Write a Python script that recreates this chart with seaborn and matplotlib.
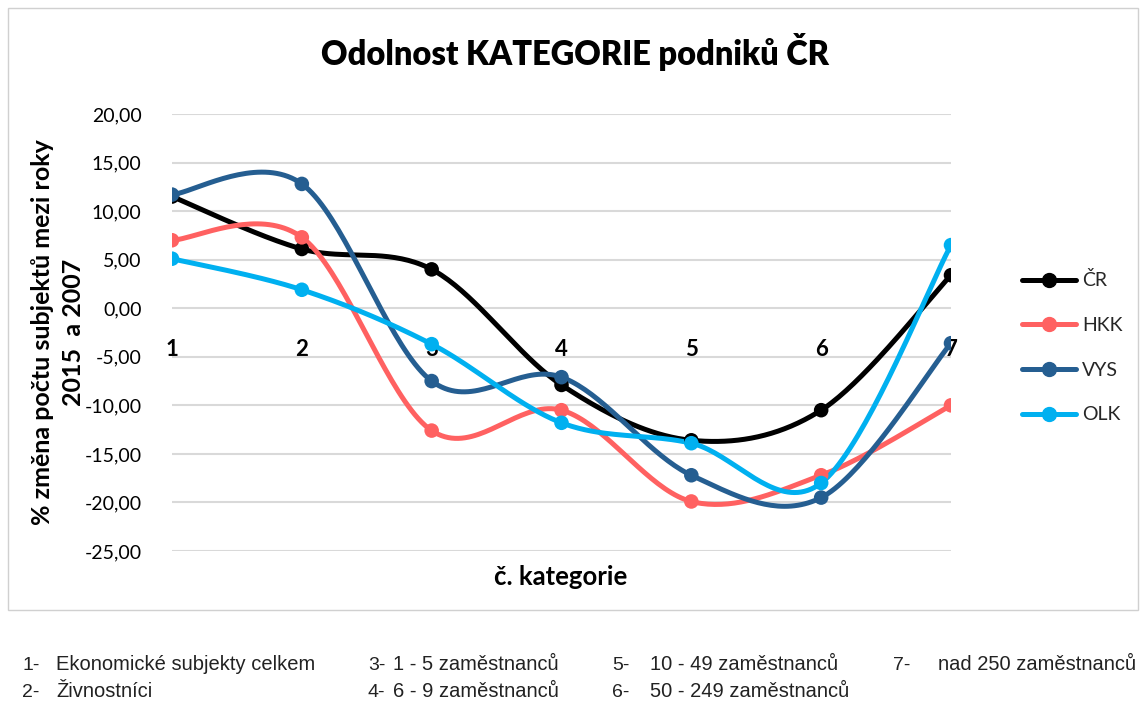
import numpy as np
import pandas as pd
import matplotlib
matplotlib.use("Agg")
import matplotlib.pyplot as plt
from matplotlib.lines import Line2D
from matplotlib.patches import Rectangle
import seaborn as sns

# data
categories = [1, 2, 3, 4, 5, 6, 7]
cr = [11.5, 6.1, 4.0, -7.9, -13.6, -10.5, 3.4]
hkk = [7.0, 7.3, -12.6, -10.5, -19.9, -17.2, -10.0]
vys = [11.7, 12.8, -7.5, -7.1, -17.2, -19.5, -3.6]
olk = [5.1, 1.9, -3.7, -11.8, -13.9, -18.0, 6.5]

series_names = ["ČR", "HKK", "VYS", "OLK"]
series_values = [cr, hkk, vys, olk]
colors = ["#000000", "#FF6161", "#255E91", "#00B0F0"]

yticks = [20, 15, 10, 5, 0, -5, -10, -15, -20, -25]

# footnote: (number, text, x of number, x of text, baseline y) in pixels
footnotes = [
    ("1-", "Ekonomické subjekty celkem", 22, 56, 670),
    ("2-", "Živnostníci", 22, 56, 697),
    ("3-", "1 - 5 zaměstnanců", 368, 393, 670),
    ("4-", "6 - 9 zaměstnanců", 368, 393, 697),
    ("5-", "10 - 49 zaměstnanců", 612, 650, 670),
    ("6-", "50 - 249 zaměstnanců", 612, 650, 697),
    ("7-", "nad 250 zaměstnanců", 893, 938, 670),
]


def smooth(xs, ys, n=40):
    # Excel-like smoothed line: cubic Bezier with Catmull-Rom control points
    pts = np.column_stack([xs, ys]).astype(float)
    pad = np.vstack([pts[0], pts, pts[-1]])
    out = []
    t = np.linspace(0, 1, n)[:, None]
    for i in range(1, len(pad) - 2):
        p0, p1, p2, p3 = pad[i - 1], pad[i], pad[i + 1], pad[i + 2]
        c1 = p1 + (p2 - p0) / 6
        c2 = p2 - (p3 - p1) / 6
        seg = ((1 - t) ** 3) * p1 + 3 * ((1 - t) ** 2) * t * c1 + 3 * (1 - t) * t ** 2 * c2 + t ** 3 * p2
        out.append(seg if i == 1 else seg[1:])
    return np.vstack(out)


sns.set_style("white")
plt.rcParams["font.family"] = ["Lato", "DejaVu Sans"]

W, H = 1146, 704
fig = plt.figure(figsize=(W / 100, H / 100), dpi=100)
ax = fig.add_axes([172 / W, 1 - 551 / H, (951 - 172) / W, 437 / H])

# chart border
fig.patches.append(Rectangle((8 / W, 1 - 610 / H), 1130 / W, 602 / H, transform=fig.transFigure,
                             fill=False, edgecolor="#D0D0D0", linewidth=1))

for name, vals, color in zip(series_names, series_values, colors):
    curve = smooth(categories, vals)
    sns.lineplot(x=curve[:, 0], y=curve[:, 1], color=color, sort=False, estimator=None,
                 linewidth=3.6, ax=ax, legend=False)

points = pd.DataFrame({"x": categories * 4,
                       "y": sum(series_values, []),
                       "region": np.repeat(series_names, len(categories))})
sns.scatterplot(data=points, x="x", y="y", hue="region", palette=colors, s=110,
                edgecolor="none", legend=False, ax=ax, zorder=5)

ax.spines["bottom"].set_position(("data", 0))
for s in ax.spines.values():
    s.set_visible(False)
ax.set_xlim(1, 7)
ax.set_ylim(-25, 20)
ax.set_yticks(yticks)
ax.set_yticklabels([f"{v:.2f}".replace(".", ",") for v in yticks], fontsize=14, color="black")
ax.set_xticks(categories)
ax.set_xticklabels([str(c) for c in categories], fontsize=16, fontweight="bold", color="black")
ax.tick_params(axis="x", length=0, pad=22)
ax.tick_params(axis="y", length=0, pad=22)
ax.grid(axis="y", color="#D9D9D9", linewidth=1.5)
ax.set_axisbelow(True)
ax.set_xlabel("")
ax.set_ylabel("")

fig.text(575 / W, 1 - 52 / H, "Odolnost KATEGORIE podniků ČR", ha="center", va="center",
         fontsize=23.5, fontweight="heavy", color="black")
fig.text(561 / W, 1 - 577 / H, "č. kategorie", ha="center", va="center",
         fontsize=18.5, fontweight="bold", color="black")
fig.text(58 / W, 1 - 332 / H, "% změna počtu subjektů mezi roky\n2015  a 2007", ha="center",
         va="center", rotation=90, fontsize=18, fontweight="bold", linespacing=1.4, color="black")

handles = [Line2D([0], [0], color=c, linewidth=3.6, marker="o", markersize=10) for c in colors]
fig.legend(handles, series_names, loc="upper left", bbox_to_anchor=(1004 / W, 1 - 254 / H),
           frameon=False, fontsize=14, handlelength=2.8, labelspacing=1.42, handletextpad=0.3)

fam = ["Liberation Sans Narrow", "Liberation Sans", "DejaVu Sans"]
for num, txt, xn, xt, y in footnotes:
    fig.text(xn / W, 1 - y / H, num, ha="left", va="baseline", fontsize=14, color="#222222",
             family=fam)
    fig.text(xt / W, 1 - y / H, txt, ha="left", va="baseline", fontsize=14.5, color="#222222",
             family=fam)

fig.savefig("out.png", dpi=100)
